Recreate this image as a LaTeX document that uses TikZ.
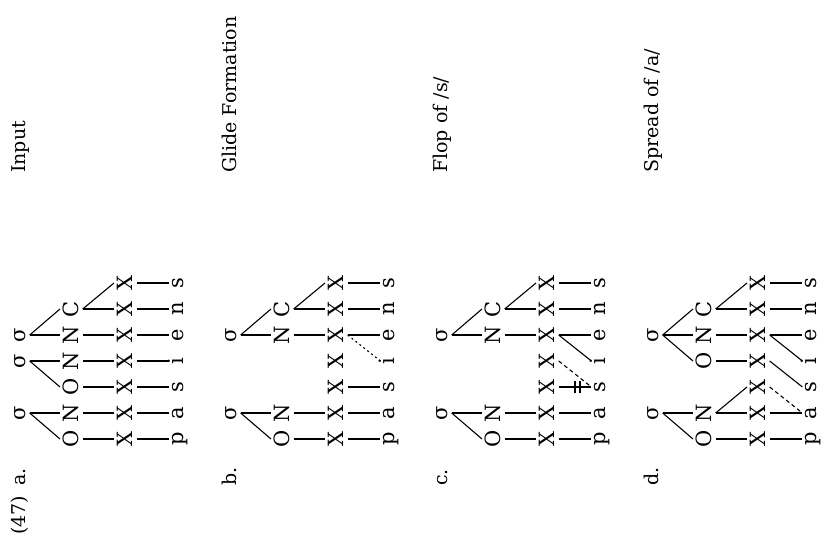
\documentclass[tikz,border=0pt]{standalone}
\usepackage{fontspec}
\setmainfont{DejaVu Serif}

\tikzset{
  tier/.style={anchor=base, inner sep=3.5pt, text depth=0pt,
    font=\fontsize{21}{25}\selectfont},
  slot/.style={tier, text height=15.3pt},
  segm/.style={tier, text height=10.9pt},
  syl/.style={tier, text height=10.9pt},
  rowtitle/.style={anchor=base west, inner sep=0pt, font=\fontsize{19}{23}\selectfont},
  assoc/.style={line width=1.1pt},
  glide/.style={assoc, dash pattern=on 2pt off 3pt},
  spread/.style={assoc, dash pattern=on 4pt off 3pt}
}

\begin{document}
\begin{tikzpicture}[x=1pt, y=1pt, rotate=90, transform shape]
    \useasboundingbox (0,0) rectangle (544,825);

    % X slots and segments of the four rows
    \foreach \r/\v in {a/799, b/588, c/377, d/166} {
        \foreach \seg [count=\k] in {p,a,s,i,e,n,s} {
            \node[slot] (\r X\k) at ({79+26*\k}, \v-107) {X};
            \node[segm] (\r S\k) at ({79+26*\k}, \v-158) {\seg};
        }
        \foreach \k in {1,2,5,6,7}
            \draw[assoc] (\r X\k.south) -- (\r S\k.north);
    }

    % (47) a. Input
    \node[rowtitle] (lab47) at (9,799) {(47)};
    \node[rowtitle] (laba) at (58,799) {a.};
    \node[rowtitle] (tita) at (371,799) {Input};
    \node[syl] (aSig2) at (131,799) {σ};
    \node[syl] (aSig4) at (183,799) {σ};
    \node[syl] (aSig5) at (209,799) {σ};
    \foreach \lt [count=\k] in {O,N,O,N,N,C} {
        \node[slot] (aK\k) at ({79+26*\k}, 746) {\lt};
        \draw[assoc] (aK\k.south) -- (aX\k.north);
    }
    \draw[assoc] (aSig2.south) -- (aK1.north);
    \draw[assoc] (aSig2.south) -- (aK2.north);
    \draw[assoc] (aSig4.south) -- (aK3.north);
    \draw[assoc] (aSig4.south) -- (aK4.north);
    \draw[assoc] (aSig5.south) -- (aK5.north);
    \draw[assoc] (aSig5.south) -- (aK6.north);
    \draw[assoc] (aK6.south) -- (aX7.north);
    \draw[assoc] (aX3.south) -- (aS3.north);
    \draw[assoc] (aX4.south) -- (aS4.north);

    % b. Glide Formation
    \node[rowtitle] (labb) at (58,588) {b.};
    \node[rowtitle] (titb) at (371,588) {Glide Formation};
    \node[syl] (bSig2) at (131,588) {σ};
    \node[syl] (bSig5) at (209,588) {σ};
    \foreach \lt/\k in {O/1, N/2, N/5, C/6} {
        \node[slot] (bK\k) at ({79+26*\k}, 535) {\lt};
        \draw[assoc] (bK\k.south) -- (bX\k.north);
    }
    \draw[assoc] (bSig2.south) -- (bK1.north);
    \draw[assoc] (bSig2.south) -- (bK2.north);
    \draw[assoc] (bSig5.south) -- (bK5.north);
    \draw[assoc] (bSig5.south) -- (bK6.north);
    \draw[assoc] (bK6.south) -- (bX7.north);
    \draw[assoc] (bX3.south) -- (bS3.north);
    \draw[glide] (bX5.south) -- (bS4.north);

    % c. Flop of /s/
    \node[rowtitle] (labc) at (58,377) {c.};
    \node[rowtitle] (titc) at (371,377) {Flop of /s/};
    \node[syl] (cSig2) at (131,377) {σ};
    \node[syl] (cSig5) at (209,377) {σ};
    \foreach \lt/\k in {O/1, N/2, N/5, C/6} {
        \node[slot] (cK\k) at ({79+26*\k}, 324) {\lt};
        \draw[assoc] (cK\k.south) -- (cX\k.north);
    }
    \draw[assoc] (cSig2.south) -- (cK1.north);
    \draw[assoc] (cSig2.south) -- (cK2.north);
    \draw[assoc] (cSig5.south) -- (cK5.north);
    \draw[assoc] (cSig5.south) -- (cK6.north);
    \draw[assoc] (cK6.south) -- (cX7.north);
    \draw[assoc] (cX3.south) -- (cS3.north);
    \draw[assoc] (151,250) -- (163,250);
    \draw[assoc] (151,245) -- (163,245);
    \draw[assoc] (cX5.south) -- (cS4.north);
    \draw[spread] (cX4.south) -- (cS3.north);

    % d. Spread of /a/
    \node[rowtitle] (labd) at (58,166) {d.};
    \node[rowtitle] (titd) at (371,166) {Spread of /a/};
    \node[syl] (dSig2) at (131,166) {σ};
    \node[syl] (dSig5) at (209,166) {σ};
    \foreach \lt/\k in {O/1, N/2, O/4, N/5, C/6} {
        \node[slot] (dK\k) at ({79+26*\k}, 113) {\lt};
        \draw[assoc] (dK\k.south) -- (dX\k.north);
    }
    \draw[assoc] (dSig2.south) -- (dK1.north);
    \draw[assoc] (dSig2.south) -- (dK2.north);
    \draw[assoc] (dSig5.south) -- (dK4.north);
    \draw[assoc] (dSig5.south) -- (dK5.north);
    \draw[assoc] (dSig5.south) -- (dK6.north);
    \draw[assoc] (dK2.south) -- (dX3.north);
    \draw[assoc] (dK6.south) -- (dX7.north);
    \draw[spread] (dX3.south) -- (dS2.north);
    \draw[assoc] (dX4.south) -- (dS3.north);
    \draw[assoc] (dX5.south) -- (dS4.north);
\end{tikzpicture}
\end{document}
